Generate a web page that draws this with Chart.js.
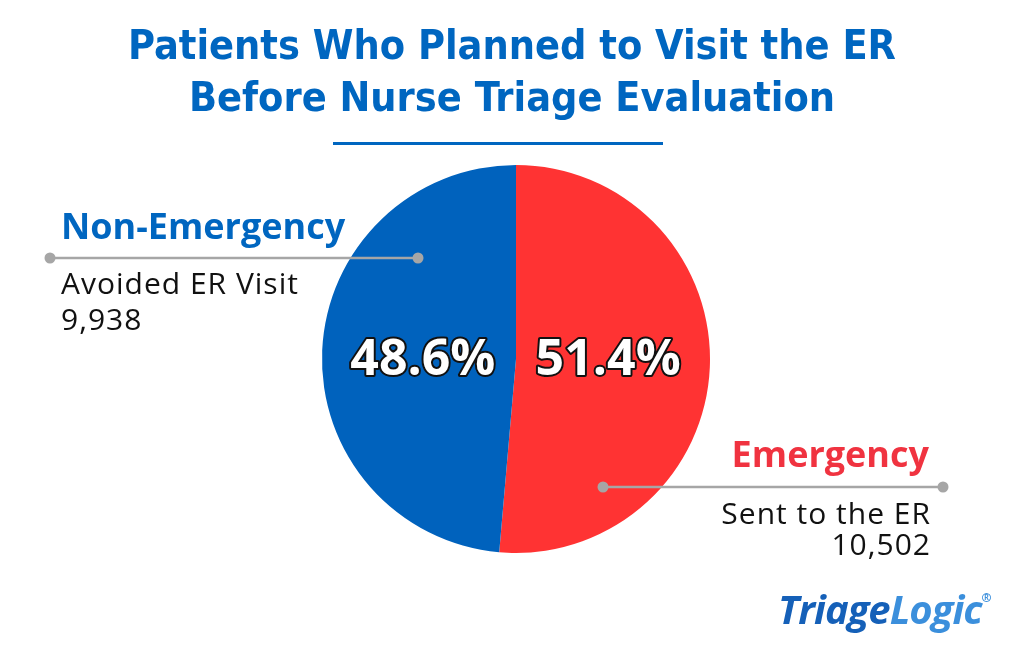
<!DOCTYPE html>
<html>
<head>
<meta charset="utf-8">
<script src="https://cdn.jsdelivr.net/npm/chart.js@4.4.1/dist/chart.umd.min.js"></script>
<style>
  html, body { margin: 0; padding: 0; background: #fff; }
  #wrap { position: relative; width: 1024px; height: 652px; overflow: hidden; }
  #title {
    position: absolute; left: 0; right: 0; top: 19px; text-align: center;
    font: bold 41px/52px "Liberation Sans Narrow", "DejaVu Sans Condensed", sans-serif;
    color: #0066c0; letter-spacing: 0px;
  }
  #rule { position: absolute; left: 333px; top: 142px; width: 330px; height: 3px; background: #0066c0; }
  #logo {
    position: absolute; left: 778px; top: 576px;
    font: italic bold 40px/44px "Open Sans", sans-serif; letter-spacing: -1px;
  }
  #logo .a { color: #1560b8; }
  #logo .b { color: #3b8fdc; }
  #logo sup { font-size: 12px; color: #3b8fdc; vertical-align: 22px; font-style: normal; }
  canvas { position: absolute; left: 0; top: 0; }
</style>
</head>
<body>
<div id="wrap">
  <canvas id="pie" width="1024" height="652"></canvas>
  <div id="title">Patients Who Planned to Visit the ER<br>Before Nurse Triage Evaluation</div>
  <div id="rule"></div>
  <div id="logo"><span class="a">Triage</span><span class="b">Logic</span><sup>®</sup></div>
</div>
<script>
// Data
const categories = ["Emergency", "Non-Emergency"];
const subLabels = ["Sent to the ER", "Avoided ER Visit"];
const counts = [10502, 9938];
const colors = ["#ff3333", "#0062bd"];
const titleColors = ["#f03340", "#0066c0"];

const total = counts.reduce((a, b) => a + b, 0);
const pct = counts.map(v => (v / total * 100).toFixed(1) + "%");

// ========== Labels + callouts drawn on top of pie ==========
const overlay = {
  id: "overlay",
  afterDatasetsDraw(chart) {
    const ctx = chart.ctx;
    const arc = chart.getDatasetMeta(0).data[0];
    const cx = arc.x, cy = arc.y, r = arc.outerRadius;

    // percentages
    ctx.save();
    ctx.font = "bold 50px 'Open Sans', sans-serif";
    ctx.textAlign = "center";
    ctx.textBaseline = "middle";
    ctx.lineJoin = "round";
    ctx.lineWidth = 4;
    ctx.strokeStyle = "#111";
    ctx.fillStyle = "#fff";
    const px = [cx + r * 0.475, cx - r * 0.48];
    pct.forEach((t, i) => {
      ctx.strokeText(t, px[i], cy + 2);
      ctx.fillText(t, px[i], cy + 2);
    });
    ctx.restore();

    // callout lines
    const lines = [
      { x1: cx + 87, x2: 943, y: cy + 128 },
      { x1: 50, x2: cx - 98, y: cy - 101 }
    ];
    ctx.save();
    ctx.strokeStyle = "#a6a6a6";
    ctx.fillStyle = "#a6a6a6";
    ctx.lineWidth = 2.5;
    lines.forEach(l => {
      ctx.beginPath();
      ctx.moveTo(l.x1, l.y);
      ctx.lineTo(l.x2, l.y);
      ctx.stroke();
      [l.x1, l.x2].forEach(x => {
        ctx.beginPath();
        ctx.arc(x, l.y, 5.5, 0, Math.PI * 2);
        ctx.fill();
      });
    });
    ctx.restore();

    // category texts
    ctx.save();
    ctx.textBaseline = "middle";
    // Emergency (right aligned)
    ctx.textAlign = "right";
    ctx.letterSpacing = "0px";
    ctx.font = "bold 36px 'Open Sans', sans-serif";
    ctx.fillStyle = titleColors[0];
    ctx.fillText(categories[0], 929, 457);
    ctx.font = "30px 'Open Sans', sans-serif";
    ctx.letterSpacing = "1px";
    ctx.fillStyle = "#111";
    ctx.fillText(subLabels[0], 931, 515);
    ctx.fillText(counts[0].toLocaleString("en-US"), 931, 546);
    // Non-Emergency (left aligned)
    ctx.textAlign = "left";
    ctx.letterSpacing = "0px";
    ctx.font = "bold 36px 'Open Sans', sans-serif";
    ctx.fillStyle = titleColors[1];
    ctx.fillText(categories[1], 61, 229);
    ctx.font = "30px 'Open Sans', sans-serif";
    ctx.letterSpacing = "1px";
    ctx.fillStyle = "#111";
    ctx.fillText(subLabels[1], 61, 285);
    ctx.fillText(counts[1].toLocaleString("en-US"), 61, 321);
    ctx.restore();
  }
};

new Chart(document.getElementById("pie"), {
  type: "pie",
  data: {
    labels: categories,
    datasets: [{ data: counts, backgroundColor: colors, borderWidth: 0, hoverOffset: 0 }]
  },
  options: {
    responsive: false,
    animation: false,
    layout: { padding: { left: 322, right: 314, top: 165, bottom: 99 } },
    plugins: { legend: { display: false }, tooltip: { enabled: false } }
  },
  plugins: [overlay]
});
</script>
</body>
</html>
